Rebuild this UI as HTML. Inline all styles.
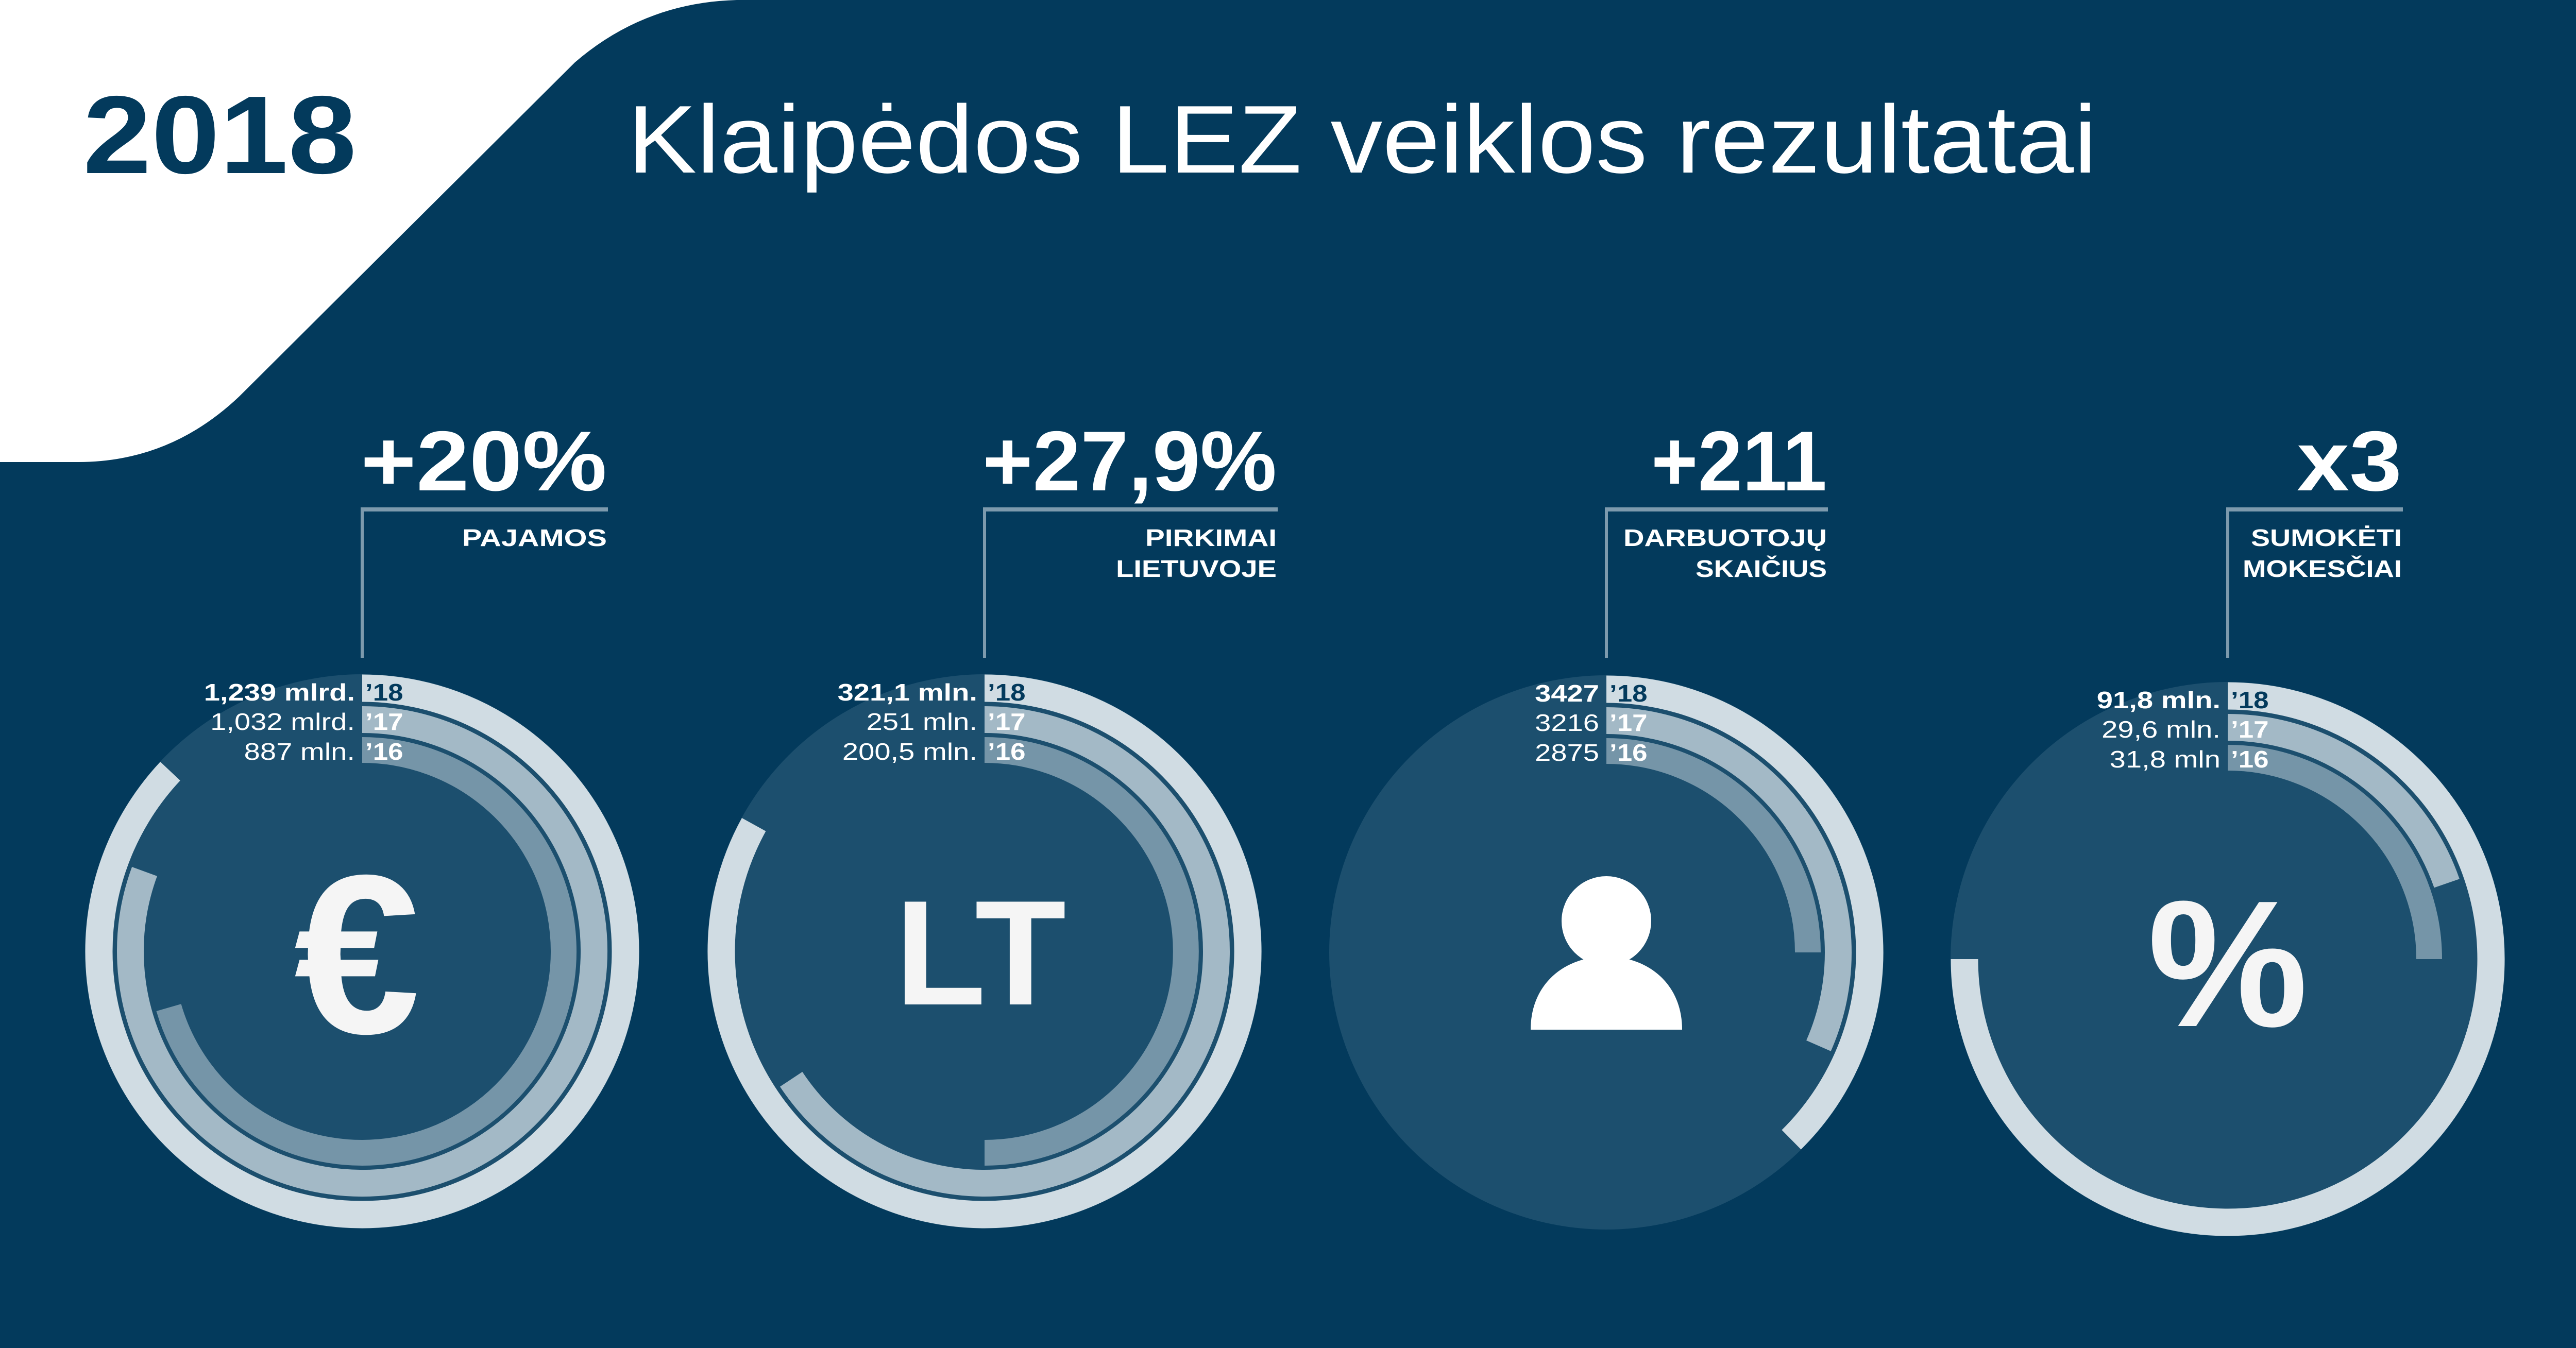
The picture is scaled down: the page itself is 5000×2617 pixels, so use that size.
<!DOCTYPE html>
<html><head><meta charset="utf-8">
<style>
html,body{margin:0;padding:0;background:#033a5c;}
svg{display:block;}
text{font-family:"Liberation Sans","DejaVu Sans",sans-serif;}
</style></head>
<body>
<svg id="chart" width="5000" height="2617" viewBox="0 0 5000 2617" xmlns="http://www.w3.org/2000/svg">
  <rect x="0" y="0" width="5000" height="2617" fill="#033a5c"/>
  <path d="M0,0 L1430,0 Q1250,5 1116,121 L464,770 Q330,897 152,897 L0,897 Z" fill="#ffffff"/>
  <text x="161" y="336" font-size="215" font-weight="bold" fill="#033a5c" textLength="531" lengthAdjust="spacingAndGlyphs">2018</text>
  <text x="1218" y="335" font-size="187" fill="#ffffff" textLength="2852" lengthAdjust="spacingAndGlyphs">Klaipėdos LEZ veiklos rezultatai</text>
  <g id="panels"></g>
</svg>
<script>
const categories = ["pajamos", "pirkimai", "darbuotojai", "mokesciai"];
const headlines = ["+20%", "+27,9%", "+211", "x3"];
const subLine1 = ["PAJAMOS", "PIRKIMAI", "DARBUOTOJŲ", "SUMOKĖTI"];
const subLine2 = ["", "LIETUVOJE", "SKAIČIUS", "MOKESČIAI"];
const values18 = ["1,239 mlrd.", "321,1 mln.", "3427", "91,8 mln."];
const values17 = ["1,032 mlrd.", "251 mln.", "3216", "29,6 mln."];
const values16 = ["887 mln.", "200,5 mln.", "2875", "31,8 mln"];
const arcFrac18 = [0.87, 0.83, 0.376, 0.75];
const arcFrac17 = [0.806, 0.657, 0.316, 0.197];
const arcFrac16 = [0.705, 0.5, 0.25, 0.25];
const yearLabels = ["’18", "’17", "’16"];

const NS = "http://www.w3.org/2000/svg";
const centersX = [703, 1911, 3118, 4324];
const centersY = [1847, 1847, 1849, 1862];
const ringR = [511, 450, 391];
const ringW = [53, 52, 50];
const ringColors = ["#d0dce3", "#a3b9c6", "#7595a8"];
const yearColors = ["#033a5c", "#ffffff", "#ffffff"];
const icons = ["€", "LT", "person", "%"];
const headW = [478, 571, 341, 204];
const sub1W = [281, 255, 395, 293];
const sub2W = [0, 312, 255, 309];
const panels = document.getElementById("panels");

function mk(tag, attrs, parent) {
  const e = document.createElementNS(NS, tag);
  for (const k in attrs) e.setAttribute(k, attrs[k]);
  parent.appendChild(e);
  return e;
}
function stretch(t, k) {
  const w = t.getComputedTextLength();
  if (w > 0) {
    t.setAttribute('textLength', (w * k).toFixed(1));
    t.setAttribute('lengthAdjust', 'spacingAndGlyphs');
  }
}
function arcPath(cx, cy, r, frac) {
  const f = Math.min(frac, 0.9999);
  const a = f * 2 * Math.PI;
  const x1 = cx, y1 = cy - r;
  const x2 = cx + r * Math.sin(a), y2 = cy - r * Math.cos(a);
  const large = f > 0.5 ? 1 : 0;
  return `M${x1},${y1} A${r},${r} 0 ${large} 1 ${x2},${y2}`;
}

categories.forEach((cat, i) => {
  const cx = centersX[i], cy = centersY[i];
  const g = mk("g", {}, panels);
  
  

  const disk = mk("circle", {cx: cx, cy: cy, r: 538, fill: "#1c4f6e"}, g);
  
  

  const fracs = [arcFrac18[i], arcFrac17[i], arcFrac16[i]];
  fracs.forEach((f, j) => {
    const p = mk("path", {d: arcPath(cx, cy, ringR[j], f), fill: "none", stroke: ringColors[j], "stroke-width": ringW[j]}, g);
    
    
  });

  const vals = [values18[i], values17[i], values16[i]];
  const rowY = [cy - 487, cy - 430, cy - 372];
  vals.forEach((v, j) => {
    const t = mk("text", {x: cx - 14, y: rowY[j], "font-size": 46, "font-weight": j === 0 ? "bold" : "normal", fill: "#ffffff", "text-anchor": "end"}, g);
    t.textContent = v;
    
    
    stretch(t, 1.22);
    const y = mk("text", {x: cx + 6, y: rowY[j], "font-size": 46, "font-weight": "bold", fill: yearColors[j]}, g);
    y.textContent = yearLabels[j];
    
    
    stretch(y, 1.15);
  });

  if (icons[i] === "person") {
    const ic = mk("g", {fill: "#ffffff"}, g);
    
    
    mk("circle", {cx: cx, cy: cy - 61, r: 87}, ic);
    mk("path", {d: `M${cx-147},${cy+150} C${cx-147},${cy+60} ${cx-80},${cy+8} ${cx},${cy+8} C${cx+80},${cy+8} ${cx+147},${cy+60} ${cx+147},${cy+150} Z`}, ic);
  } else {
    const sizes = {"€": 440, "LT": 290, "%": 350};
    const offY = {"€": 158, "LT": 103, "%": 130};
    const offX = {"€": -10, "LT": -8, "%": 0};
    const ic = mk("text", {x: cx + offX[icons[i]], y: cy + offY[icons[i]], "font-size": sizes[icons[i]], "font-weight": "bold", fill: "#f5f5f5", "text-anchor": "middle"}, g);
    ic.textContent = icons[i];
    
    
  }

  const rightX = [1178, 2478, 3546, 4662][i];
  const h = mk("text", {x: rightX, y: 952, "font-size": 165, "font-weight": "bold", fill: "#ffffff", "text-anchor": "end", textLength: headW[i], lengthAdjust: "spacingAndGlyphs"}, g);
  h.textContent = headlines[i];
  
  

  const hl = mk("rect", {x: cx, y: 985, width: rightX - cx + 2, height: 8, fill: "#7d9aad"}, g);
  
  
  const vl = mk("rect", {x: cx - 3, y: 985, width: 6, height: 292, fill: "#7d9aad"}, g);
  
  

  const s1 = mk("text", {x: rightX, y: 1060, "font-size": 46, "font-weight": "bold", fill: "#ffffff", "text-anchor": "end", textLength: sub1W[i], lengthAdjust: "spacingAndGlyphs"}, g);
  s1.textContent = subLine1[i];
  
  
  if (subLine2[i]) {
    const s2 = mk("text", {x: rightX, y: 1120, "font-size": 46, "font-weight": "bold", fill: "#ffffff", "text-anchor": "end", textLength: sub2W[i], lengthAdjust: "spacingAndGlyphs"}, g);
    s2.textContent = subLine2[i];
    
    
  }
});
</script>
</body></html>
